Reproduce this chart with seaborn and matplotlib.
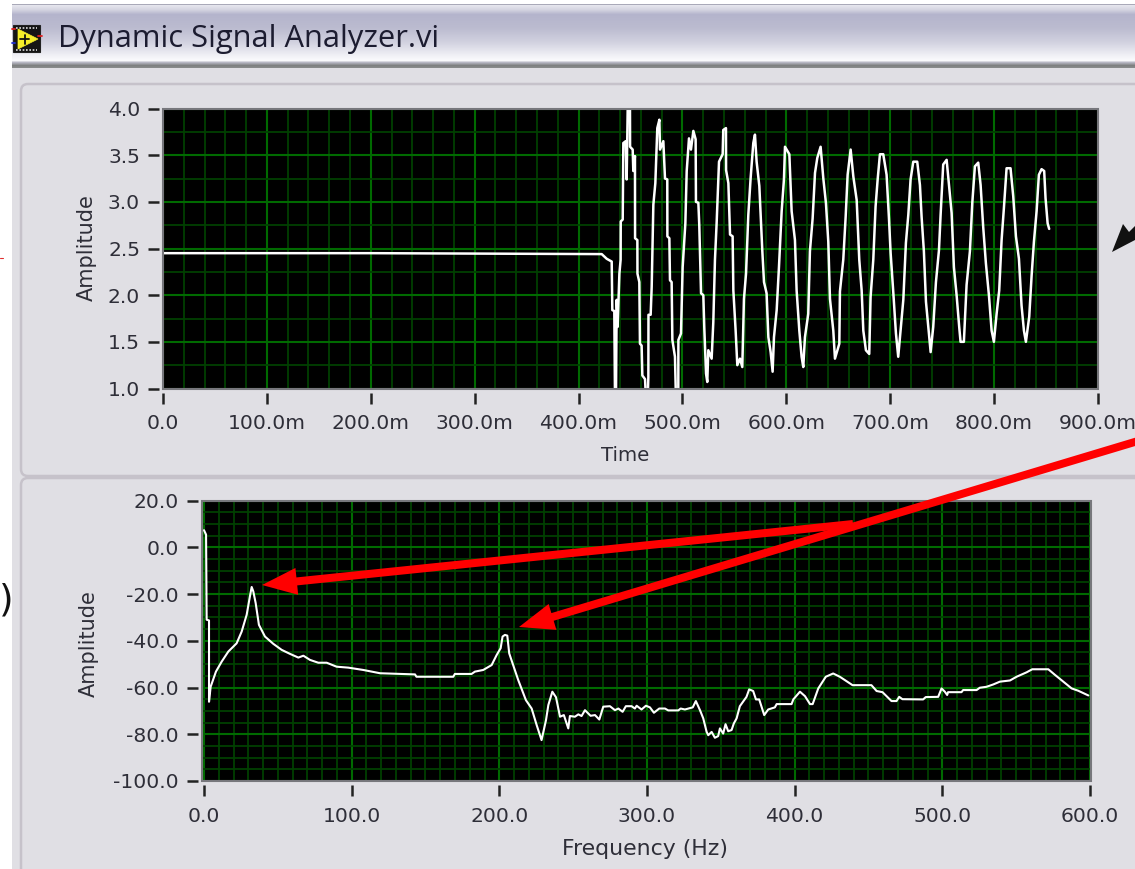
import numpy as np
import matplotlib
matplotlib.use('Agg')
import matplotlib.pyplot as plt
import matplotlib.patches as mpatches
import seaborn as sns

# segnale nel tempo (ms, ampiezza)
tempo = [0, 200, 401.4, 422.3, 427.1, 431.9, 432.5, 434.4, 435.1, 436, 436.7, 437.6, 439.3, 440.5, 440.6, 442.5, 443.1,
         445.4, 446.3, 447.3, 449.5, 449.6, 452.1, 452.7, 454.3, 454.4, 456.6, 456.7, 458.5, 459.1, 460.7, 461.4, 464,
         464.9, 466.5, 467.2, 467.3, 469.4, 470.4, 472, 473.9, 475.8, 477.8, 478.4, 481.6, 483.2, 485.4, 485.5, 487.4,
         488, 489.6, 490.3, 492.8, 493.8, 496, 496.1, 498.6, 500.2, 502.8, 504.1, 506.3, 508.2, 510.5, 512.7, 513,
         515.3, 516.2, 517.9, 520.1, 521, 522.7, 523.9, 524.9, 528.1, 529.7, 531.3, 532.9, 535.2, 538.7, 539.3, 541.9,
         542, 544.2, 545.8, 548.3, 549, 551.2, 552.8, 555.4, 557.6, 559.2, 561.2, 563.4, 565.6, 568.2, 569.8, 571.4,
         574, 576.9, 578.5, 581, 582.7, 584.9, 586.8, 588.1, 590.7, 592.9, 595.5, 597.7, 598.7, 602.9, 605.1, 608.3,
         609.9, 612.5, 614.7, 616.3, 617.9, 621.1, 622.7, 625.3, 627.6, 629.8, 633, 635.6, 638.1, 640.4, 642, 645.2,
         646.8, 651, 651.6, 654.8, 657.1, 659, 661.9, 664.5, 667.7, 670.2, 672.5, 674.1, 676.6, 679.8, 681.1, 683.7,
         685.9, 687.9, 690.1, 693.3, 696.5, 698.8, 700.4, 702.9, 705.5, 707.7, 710.3, 712.6, 715.1, 717.4, 719.6, 722.2,
         726, 728.6, 730.2, 732.4, 734.4, 736.6, 738.9, 741.4, 744, 746.9, 748.5, 751, 754.3, 756.8, 759.1, 761.3,
         763.9, 766.4, 767.7, 770.9, 773.5, 776.7, 779, 781.5, 784.7, 787, 789.5, 792.1, 795, 797.6, 799.8, 802.4,
         804.9, 807.2, 809.4, 812, 815.8, 818.4, 821, 823.9, 826.4, 828.7, 830.6, 833.8, 836.1, 838.3, 840.9, 843.1,
         845.7, 848.2, 849.5, 851.5, 853]
ampiezza_tempo = [2.45, 2.45, 2.44, 2.44, 2.39, 2.36, 1.84, 1.83, 0.87, 0.87, 1.95, 1.66, 2.23, 2.38, 2.79, 2.81, 3.63,
                  3.65, 3.24, 3.99, 3.99, 3.59, 3.56, 3.33, 3.49, 2.61, 2.59, 2.23, 2.14, 1.48, 1.46, 1.14, 1.10,
                  0.87, 0.87, 1.12, 1.79, 1.79, 2.09, 2.97, 3.20, 3.79, 3.88, 3.56, 3.65, 3.25, 3.24, 2.63, 2.61,
                  2.16, 2.14, 1.52, 1.34, 0.87, 0.87, 1.52, 1.59, 2.30, 2.77, 3.33, 3.68, 3.56, 3.76, 3.67, 3.00,
                  2.99, 2.75, 2.02, 2.00, 1.66, 1.16, 1.07, 1.41, 1.32, 1.71, 2.38, 2.77, 3.43, 3.51, 3.77, 3.79,
                  3.34, 3.20, 2.65, 2.63, 2.05, 1.62, 1.25, 1.32, 1.23, 1.96, 2.23, 2.86, 3.25, 3.63, 3.72, 3.43,
                  3.17, 2.47, 2.14, 2.02, 1.55, 1.39, 1.18, 1.55, 1.84, 2.30, 2.90, 3.24, 3.59, 3.51, 2.90, 2.59,
                  2.05, 1.62, 1.34, 1.23, 1.55, 1.80, 2.47, 2.82, 3.31, 3.47, 3.59, 3.25, 2.99, 2.57, 1.96, 1.62,
                  1.32, 1.48, 2.04, 2.38, 2.84, 3.29, 3.56, 3.27, 3.02, 2.38, 2.05, 1.62, 1.41, 1.37, 1.98, 2.38,
                  2.95, 3.24, 3.51, 3.51, 3.29, 2.82, 2.45, 2.04, 1.59, 1.34, 1.66, 1.95, 2.56, 2.86, 3.24, 3.43,
                  3.43, 3.18, 2.84, 2.47, 1.93, 1.66, 1.39, 1.66, 2.14, 2.48, 2.86, 3.40, 3.45, 3.15, 2.88, 2.30,
                  2.00, 1.66, 1.50, 1.50, 2.11, 2.47, 2.99, 3.38, 3.42, 3.18, 2.73, 2.34, 2.00, 1.62, 1.50, 1.80,
                  2.05, 2.59, 2.93, 3.36, 3.36, 3.06, 2.63, 2.39, 1.89, 1.62, 1.50, 1.77, 2.21, 2.57, 2.90, 3.29,
                  3.35, 3.33, 3.04, 2.77, 2.71]

# spettro (Hz, ampiezza)
frequenza = [0, 1.4, 1.8, 3.4, 3.4, 4.5, 8.1, 12, 16.5, 22.1, 25.5, 28.9, 31.1, 32.3, 33.4, 35, 37.2, 41.3, 46.9, 52.6,
             58.2, 63.9, 67.3, 71.8, 77.4, 83.1, 89.8, 97.7, 107.9, 119.2, 142.9, 143.9, 148.5, 168.8, 169.9, 181.2,
             183.5, 189.1, 194.8, 198.2, 200.9, 202.2, 203.8, 205.4, 206.7, 209.4, 212.8, 218, 221.9, 225.3, 228.6,
             231.6, 233.2, 235.9, 238.4, 241.1, 243.7, 246.7, 247.8, 251.2, 253.5, 255.7, 258, 261.8, 264.8, 267.7,
             270.4, 274.9, 278.3, 280.6, 283.5, 285.7, 289.6, 291.8, 293, 296.3, 299.3, 302, 304.7, 308.3, 312.2,
             314.4, 321.2, 322.8, 325.7, 328, 331, 333.1, 335.9, 338.1, 340.4, 341.5, 343.8, 346, 348.2, 349.4, 351.6,
             353.2, 355, 357.3, 358.8, 360.7, 362.9, 367.4, 369.2, 371.9, 373.8, 376, 379.4, 382.1, 386.6, 387.8,
             397.9, 399.1, 403.6, 407, 410.4, 412.2, 416, 421.1, 426.1, 430.6, 439.2, 452, 455.5, 459.5, 465.6, 469,
             470.8, 473, 487, 488.8, 497.2, 499.5, 501.7, 503.3, 503.9, 513, 514.1, 523.2, 525.4, 529.9, 534.5, 539,
             545.8, 550.3, 557.1, 560.9, 571.8, 576.3, 582, 587.6, 592.1, 598.9]
ampiezza_freq = [7.3, 5.4, -31, -31.3, -66.1, -59.7, -53.2, -48.9, -44.6, -41.1, -36.1, -28.9, -21, -17, -18.9, -23.9,
                 -33.2, -38.2, -41.3, -43.9, -45.6, -47.2, -46.4, -48.2, -49.4, -49.4, -51.1, -51.5, -52.5, -53.9,
                 -54.4, -55.4, -55.4, -55.4, -54.2, -54.2, -53.2, -52.5, -50.4, -46.1, -43.2, -38.2, -37.5, -37.8,
                 -45.4, -50.4, -56.8, -65.4, -69, -76.1, -82.5, -74, -67.5, -61.8, -64.2, -72.5, -71.8, -77.5, -72.2,
                 -72.5, -71.5, -72.2, -69.7, -72.1, -71.8, -73.7, -68.2, -68, -69.7, -69, -70.4, -68, -68, -69, -67.8,
                 -69.4, -67.8, -68.5, -70.8, -69, -69, -69.8, -69.8, -69, -69.4, -69, -68.5, -65.8, -69.7, -73.2, -79,
                 -80.4, -79, -81.5, -80.8, -77.5, -79.7, -75.7, -78.7, -78.2, -75.4, -73.2, -68, -64, -60.8, -61.5,
                 -65.1, -65.1, -71.8, -69.4, -68.5, -67.1, -67.1, -65.1, -61.8, -63.7, -67.1, -67.1, -60.4, -55.4,
                 -54, -55.4, -59, -59, -61.5, -62, -65.8, -65.8, -64, -65, -65.1, -64.1, -64, -60.4, -61.8, -63.2, -62,
                 -62, -61.1, -61.1, -60.1, -59.7, -58.7, -57.5, -57, -55.4, -53.5, -52.2, -52.2, -54.6, -57.5, -60.4,
                 -61.4, -63.4]

# tacche e etichette
tick_tempo = [0, 100, 200, 300, 400, 500, 600, 700, 800, 900]
label_tempo = ['0.0', '100.0m', '200.0m', '300.0m', '400.0m', '500.0m', '600.0m', '700.0m', '800.0m', '900.0m']
tick_amp = [1.0, 1.5, 2.0, 2.5, 3.0, 3.5, 4.0]
label_amp = ['1.0', '1.5', '2.0', '2.5', '3.0', '3.5', '4.0']
tick_freq = [0, 100, 200, 300, 400, 500, 600]
label_freq = ['0.0', '100.0', '200.0', '300.0', '400.0', '500.0', '600.0']
tick_db = [-100, -80, -60, -40, -20, 0, 20]
label_db = ['-100.0', '-80.0', '-60.0', '-40.0', '-20.0', '0.0', '20.0']

W, H = 1135, 869
SFONDO = '#E0DFE4'
TESTO = '#2E2E38'

sns.set_theme(style='dark')
plt.rcParams['font.family'] = ['DejaVu Sans']


# assi in coordinate pixel (origine in alto a sinistra)
def assi_pixel(fig, zorder):
    ax = fig.add_axes([0, 0, 1, 1], zorder=zorder)
    ax.set_xlim(0, W)
    ax.set_ylim(H, 0)
    ax.axis('off')
    ax.patch.set_alpha(0)
    return ax


def assi_grafico(fig, x0, x1, y0, y1):
    return fig.add_axes([x0 / W, 1 - y1 / H, (x1 - x0) / W, (y1 - y0) / H], zorder=5)


# grafico stile LabVIEW: griglia verde su nero
def grafico(ax, x, y, xlim, ylim, xt, xl, yt, yl, minori_x, minori_y, nome_x, nome_y, dim_x, dim_y, pos_x, pos_y, lw):
    sns.lineplot(x=x, y=y, sort=False, estimator=None, color='white', linewidth=lw, ax=ax, zorder=4)
    ax.set_xlim(*xlim)
    ax.set_ylim(*ylim)
    ax.set_facecolor('black')
    for s in ax.spines.values():
        s.set_visible(False)
    ax.set_xticks(xt, xl)
    ax.set_yticks(yt, yl)
    ax.set_xticks(minori_x, minor=True)
    ax.set_yticks(minori_y, minor=True)
    ax.tick_params(which='both', length=0, labelcolor=TESTO, labelsize=14.6)
    ax.tick_params(which='major', axis='x', pad=18.5)
    ax.tick_params(which='major', axis='y', pad=16.5)
    ax.grid(which='major', color='#006A00', linewidth=1.5)
    ax.grid(which='minor', color='#004000', linewidth=1.3)
    ax.set_axisbelow(True)
    ax.set_xlabel(nome_x, fontsize=dim_x, color=TESTO, va='center')
    ax.set_ylabel(nome_y, fontsize=dim_y, color=TESTO, va='center')
    ax.xaxis.set_label_coords(*pos_x)
    ax.yaxis.set_label_coords(*pos_y)
    # cornice grigia sopra alla griglia
    ax.add_patch(mpatches.Rectangle((0, 0), 1, 1, transform=ax.transAxes, fc='none', ec='#77777C', lw=1.5, zorder=6,
                                    clip_on=False))


# tacche staccate dal bordo, nelle coordinate pixel dello strato superiore
def tacche(fg, ax, xt, yt):
    box = ax.get_position()
    x0, x1 = ax.get_xlim()
    y0, y1 = ax.get_ylim()
    sinistra = box.x0 * W
    basso = (1 - box.y0) * H
    for v in xt:
        px = sinistra + (v - x0) / (x1 - x0) * box.width * W
        fg.plot([px, px], [basso + 4, basso + 15], color='#222222', lw=1.8, solid_capstyle='butt')
    for v in yt:
        py = basso - (v - y0) / (y1 - y0) * box.height * H
        fg.plot([sinistra - 15, sinistra - 4], [py, py], color='#222222', lw=1.8, solid_capstyle='butt')
    fg.set_xlim(0, W)
    fg.set_ylim(H, 0)


fig = plt.figure(figsize=(W / 100, H / 100), dpi=100, facecolor='white')

# sfondo: pannello, barra del titolo, cornici
bg = assi_pixel(fig, 0)
bg.add_patch(mpatches.Rectangle((12, 68), W, H, color=SFONDO, lw=0))
livelli = [(4, '#A9A9B8'), (5, '#E6E6EE'), (9, '#D6D6E2'), (14, '#B4B4CC'), (28, '#BCBCD0'), (42, '#D2D2E0'),
           (54, '#EEEEF4'), (60, '#FBFBFD'), (62, '#B8B8C4'), (65, '#7E8080'), (68, '#8E9090'), (70, SFONDO)]
rgb = np.array([matplotlib.colors.to_rgb(c) for _, c in livelli])
righe = np.arange(4, 71)
sfumatura = np.stack([np.interp(righe, [p for p, _ in livelli], rgb[:, i]) for i in range(3)], axis=1)[:, None, :]
bg.imshow(sfumatura, extent=(12, W, 71, 4), aspect='auto', interpolation='bilinear')
bg.set_xlim(0, W)
bg.set_ylim(H, 0)
bordo = '#C6C2CA'
bg.add_patch(mpatches.FancyBboxPatch((21, 84), W + 50, 392, boxstyle='round,pad=0,rounding_size=7', fc='none',
                                     ec=bordo, lw=1.8))
bg.add_patch(mpatches.FancyBboxPatch((21, 478), W + 50, H, boxstyle='round,pad=0,rounding_size=7', fc='none',
                                     ec=bordo, lw=1.8))

# icona del VI e titolo
bg.add_patch(mpatches.Rectangle((13, 25), 27, 27, fc='#151515', ec='#222222', lw=0.8))
bg.plot([16, 37], [27.5, 27.5], color='#DDDDDD', lw=1.2, ls=(0, (1, 1)))
bg.plot([16, 37], [49.5, 49.5], color='#DDDDDD', lw=1.2, ls=(0, (1, 1)))
bg.add_patch(mpatches.Polygon([(18, 29), (38, 39), (18, 49)], fc='#F5EE2A', ec='#F5EE2A', lw=0.5))
bg.plot([20, 29], [39, 39], color='#111111', lw=1.3)
bg.plot([24.5, 24.5], [34.5, 43.5], color='#111111', lw=1.3)
bg.plot([38, 42], [36, 36], color='#E02020', lw=1.3)
bg.plot([12, 15], [29, 29], color='#E02020', lw=1.3)
bg.plot([12, 15], [43, 43], color='#2030D0', lw=1.3)
bg.text(58, 39.5, 'Dynamic Signal Analyzer.vi', fontsize=22.2, family='Open Sans', color='#1C1C30', va='center',
        ha='left')

# frammenti ai bordi
bg.text(6, 601, ')', fontsize=27, color='#111111', va='center', ha='center')
bg.plot([0, 3], [258, 258], color='#E03030', lw=0.8)

# grafico del tempo
ax_t = assi_grafico(fig, 163, 1098, 108.5, 388.5)
grafico(ax_t, tempo, ampiezza_tempo, (0, 900), (1, 4), tick_tempo, label_tempo, tick_amp, label_amp,
        np.arange(0, 901, 20), np.arange(1, 4.01, 0.25), 'Time', 'Amplitude', 14.2, 15, (0.494, -0.24), (-0.081, 0.505),
        1.8)

# grafico dello spettro
ax_f = assi_grafico(fig, 202, 1091, 500.5, 781)
grafico(ax_f, frequenza, ampiezza_freq, (-1.35, 600.7), (-100, 20), tick_freq, label_freq, tick_db, label_db,
        np.arange(0, 601, 10), np.arange(-100, 21, 5), 'Frequency (Hz)', 'Amplitude', 15.8, 15, (0.498, -0.242),
        (-0.127, 0.49), 1.5)

# annotazioni sopra ai grafici
fg = assi_pixel(fig, 10)
tacche(fg, ax_t, tick_tempo, tick_amp)
tacche(fg, ax_f, tick_freq, tick_db)
for (x0, y0), (x1, y1) in [((853, 524), (262, 585)), ((1138, 441), (519, 627))]:
    fg.add_patch(mpatches.FancyArrow(x0, y0, x1 - x0, y1 - y0, width=8, head_width=27, head_length=35,
                                     length_includes_head=True, color='#FF0000', lw=0))
fg.add_patch(mpatches.Polygon([(1112, 252), (1123, 224), (1129, 232), (1135, 226), (1135, 240)], color='#111111', lw=0))

fig.savefig('out.png', dpi=100, facecolor='white')
